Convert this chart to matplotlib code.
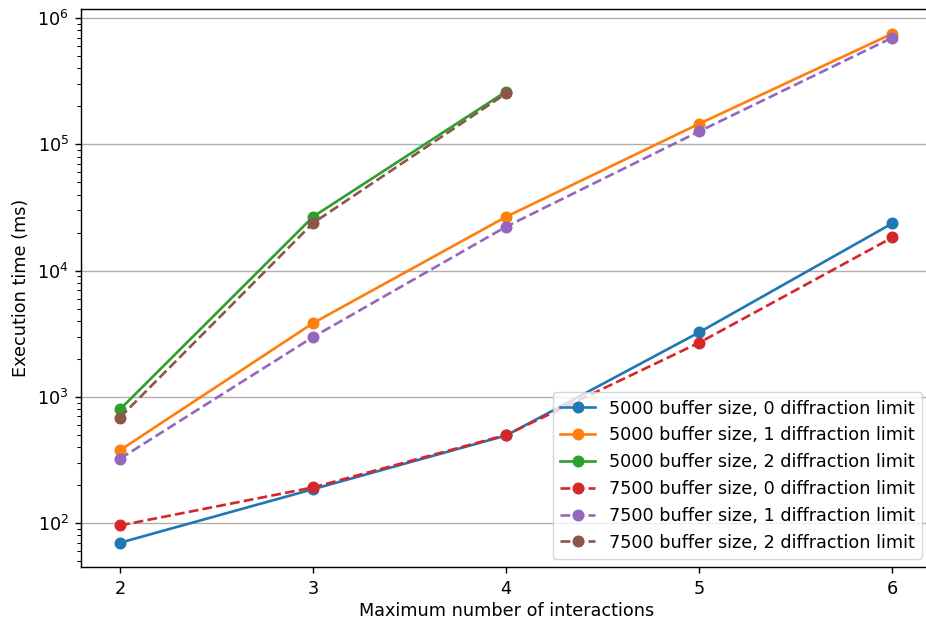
import matplotlib
matplotlib.use("Agg")
import matplotlib.pyplot as plt

# Maximum number of interactions (x axis)
interactions_full = [2, 3, 4, 5, 6]
interactions_short = [2, 3, 4]

# Execution times in ms
buf5000_diff0 = [70, 186, 495, 3250, 23700]
buf5000_diff1 = [378, 3840, 26700, 145700, 753000]
buf5000_diff2 = [796, 26700, 262000]
buf7500_diff0 = [96, 192, 500, 2690, 18300]
buf7500_diff1 = [324, 2980, 22300, 126700, 700000]
buf7500_diff2 = [687, 23800, 253000]

labels = [
    "5000 buffer size, 0 diffraction limit",
    "5000 buffer size, 1 diffraction limit",
    "5000 buffer size, 2 diffraction limit",
    "7500 buffer size, 0 diffraction limit",
    "7500 buffer size, 1 diffraction limit",
    "7500 buffer size, 2 diffraction limit",
]

S = 1.27
plt.rcParams["font.family"] = ["DejaVu Sans"]
plt.rcParams["font.size"] = 10 * S
plt.rcParams["lines.linewidth"] = 1.5 * S
plt.rcParams["lines.markersize"] = 6 * S
plt.rcParams["axes.linewidth"] = 0.8 * S
for ax_name in ("xtick", "ytick"):
    plt.rcParams[f"{ax_name}.major.width"] = 0.8 * S
    plt.rcParams[f"{ax_name}.minor.width"] = 0.6 * S
    plt.rcParams[f"{ax_name}.major.size"] = 3.5 * S
    plt.rcParams[f"{ax_name}.minor.size"] = 2 * S
    plt.rcParams[f"{ax_name}.major.pad"] = 3.5 * S

fig = plt.figure(figsize=(9.26, 6.2), dpi=100)
ax = fig.add_axes([0.0878, 0.0847, 0.9176, 0.9008])

ax.plot(interactions_full, buf5000_diff0, "o-", color="C0", label=labels[0])
ax.plot(interactions_full, buf5000_diff1, "o-", color="C1", label=labels[1])
ax.plot(interactions_short, buf5000_diff2, "o-", color="C2", label=labels[2])
ax.plot(interactions_full, buf7500_diff0, "o--", color="C3", label=labels[3])
ax.plot(interactions_full, buf7500_diff1, "o--", color="C4", label=labels[4])
ax.plot(interactions_short, buf7500_diff2, "o--", color="C5", label=labels[5])

ax.set_yscale("log")
ax.set_xlim(1.8, 6.2)
ax.set_ylim(44.6, 1.18e6)
ax.set_xticks(interactions_full)
ax.grid(True, axis="y", which="major", color="#b0b0b0", linewidth=0.8 * S)
ax.set_xlabel("Maximum number of interactions", labelpad=2.5 * S)
ax.set_ylabel("Execution time (ms)", labelpad=4 * S)
ax.legend(loc="lower right")

fig.savefig("out.png", dpi=100)
